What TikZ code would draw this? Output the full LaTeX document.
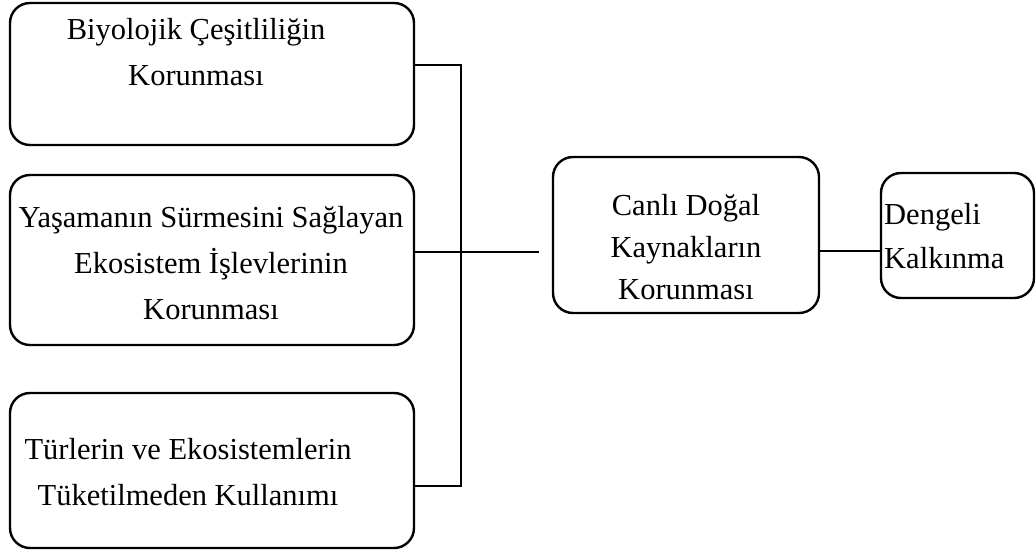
\documentclass[tikz,border=0pt]{standalone}
\usepackage{fontspec}
\setmainfont{Liberation Serif}
\begin{document}
\begin{tikzpicture}[x=1pt,y=-1pt,
  box/.style={draw,line width=2.4pt,rounded corners=20pt,inner sep=0pt},
  txt/.style={font=\fontsize{30.5}{46}\selectfont,align=center,inner sep=0pt},
  link/.style={line width=2.4pt}]
\useasboundingbox (0,0) rectangle (1036,555);
% left boxes
\node[box,minimum width=404pt,minimum height=142pt] (bio) at (212,74) {};
\node[box,minimum width=404pt,minimum height=170pt] (eko) at (212,260) {};
\node[box,minimum width=404pt,minimum height=155pt] (tur) at (212,470.5) {};
\node[txt] (tbio) at (196,52) {Biyolojik Çeşitliliğin\\Korunması};
\node[txt] (teko) at (211,263) {Yaşamanın Sürmesini Sağlayan\\Ekosistem İşlevlerinin\\Korunması};
\node[txt] (ttur) at (188,472) {Türlerin ve Ekosistemlerin\\Tüketilmeden Kullanımı};
% right boxes
\node[box,minimum width=266pt,minimum height=156pt] (canli) at (686,235) {};
\node[box,minimum width=153pt,minimum height=125pt] (denge) at (957.5,235.5) {};
\node[txt,font=\fontsize{30.5}{42}\selectfont] (tcanli) at (686,247) {Canlı Doğal\\Kaynakların\\Korunması};
\node[txt,font=\fontsize{30.5}{44}\selectfont,align=left,anchor=west] (tdenge) at (884,236) {Dengeli\\Kalkınma};
% connectors
\coordinate (jtop) at (461,65);
\coordinate (jbot) at (461,486);
\coordinate (jmid) at (461,252);
\coordinate (mend) at (539,252);
\coordinate (rmid) at (850,251);
\draw[link] (bio.east |- jtop) -- (jtop) -- (jbot) -- (tur.east |- jbot);
\draw[link] (eko.east |- jmid) -- (mend);
\draw[link] (canli.east |- rmid) -- (denge.west |- rmid);
\end{tikzpicture}
\end{document}
